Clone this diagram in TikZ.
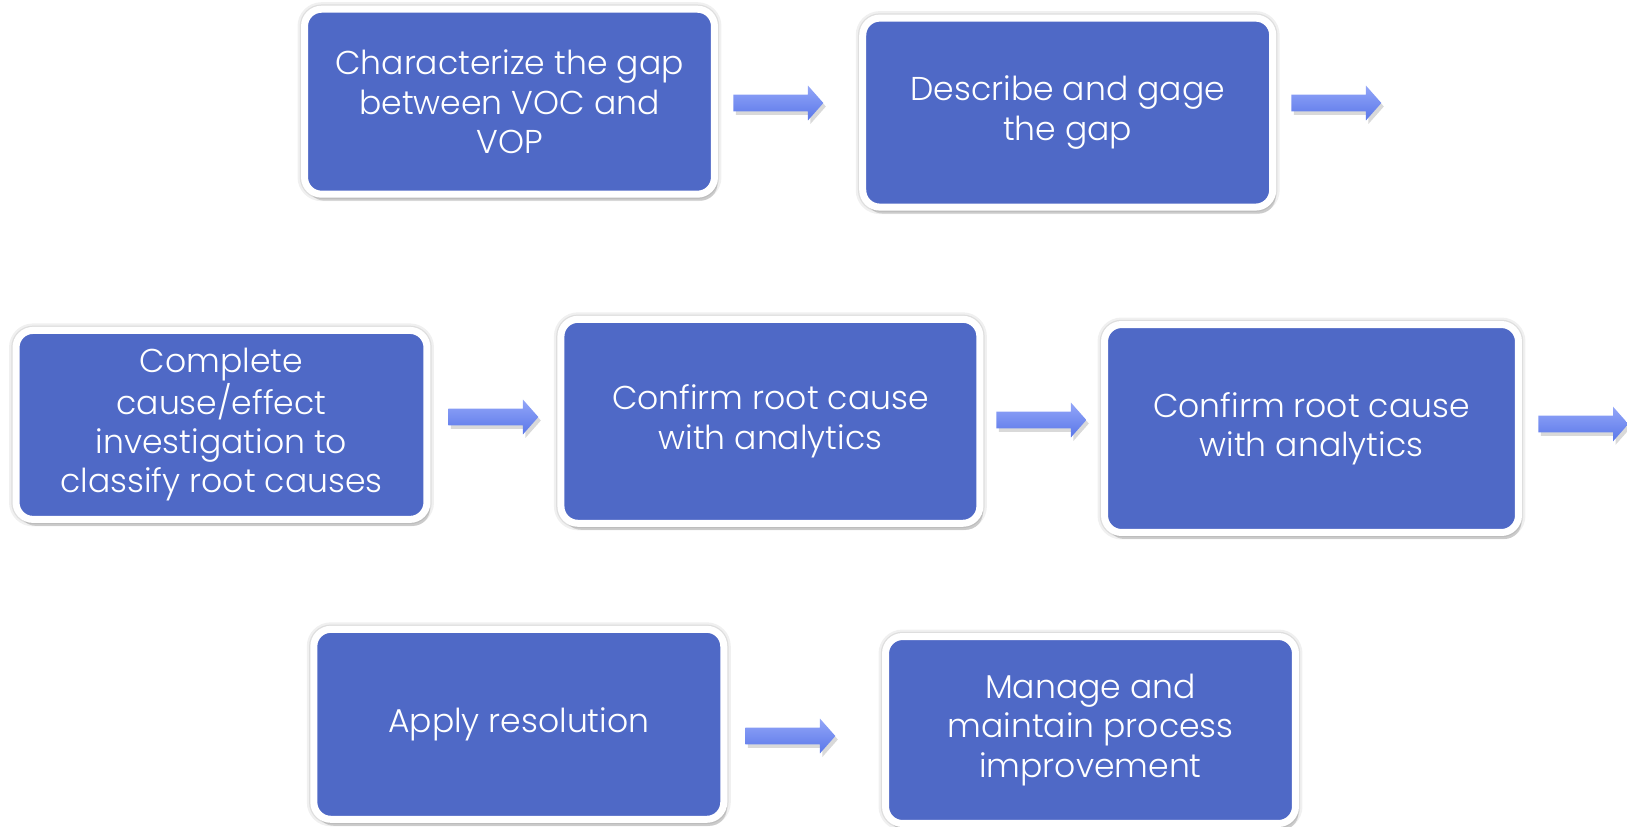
\documentclass[tikz,border=0pt]{standalone}
\usepackage{fontspec}
\setmainfont{Poppins Light}
\usetikzlibrary{shapes.arrows,shadows}

\definecolor{boxblue}{HTML}{4F69C6}
\definecolor{arrowtop}{HTML}{93A6F8}
\definecolor{arrowbot}{HTML}{5A77E9}

\tikzset{
  stepbox/.style={rounded corners=0.34cm, fill=boxblue, draw=white,
    line width=0.14cm, text=white, align=center, inner sep=0pt,
    minimum width=8.2cm, font=\fontsize{18.8}{22.4}\selectfont,
    preaction={draw=black!6, line width=0.28cm},
    preaction={draw=black!13, line width=0.19cm},
    drop shadow={shadow xshift=0.06cm, shadow yshift=-0.13cm,
      opacity=0.22, fill=black!70}},
  flowarrow/.style={single arrow, draw=none, top color=arrowtop,
    bottom color=arrowbot, minimum height=1.8cm, inner sep=0.16cm,
    single arrow head extend=0.18cm, single arrow tip angle=97,
    anchor=tail, drop shadow={shadow xshift=0.05cm, shadow yshift=-0.07cm,
      opacity=0.25, fill=black!60}}
}

\begin{document}
\begin{tikzpicture}[x=0.02cm, y=-0.02cm]

\useasboundingbox (0,0) rectangle (1627,826);

% first row
\node[stepbox, minimum height=3.7cm] (charact) at (509.5,101.7)
  {Characterize the gap\\between VOC and\\VOP};
\node[stepbox, minimum height=3.78cm] (describe) at (1067.7,112.6)
  {Describe and gage\\the gap};

% second row
\node[stepbox, minimum width=8.22cm, minimum height=3.78cm] (investigate) at (221.5,424.9)
  {Complete\\cause/effect\\investigation to\\classify root causes};
\node[stepbox, minimum width=8.38cm, minimum height=4.08cm] (confirm) at (770.4,421.3)
  {Confirm root cause\\with analytics};
\node[stepbox, minimum width=8.28cm, minimum height=4.16cm] (confirmb) at (1311.5,428.5)
  {Confirm root cause\\with analytics};

% third row
\node[stepbox, minimum height=3.8cm] (apply) at (518.8,724.3)
  {Apply resolution};
\node[stepbox, minimum height=3.74cm] (manage) at (1090.5,730)
  {Manage and\\maintain process\\improvement};

% arrows
\foreach \p/\n in {
  (733,103)/arrA, (1291,103)/arrB, (448,417)/arrC,
  (996,420)/arrD, (1538,424)/arrE, (745,736)/arrF
} {
  \node[flowarrow] (\n) at \p {};
}

\end{tikzpicture}
\end{document}
